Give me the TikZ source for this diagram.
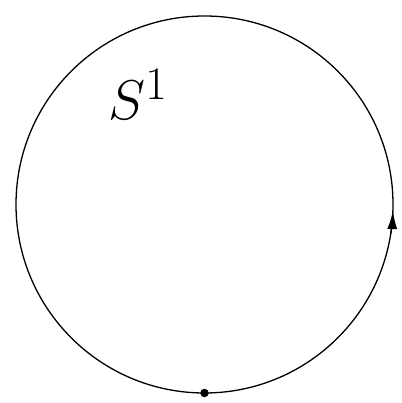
\documentclass[tikz,border=0pt]{standalone}
\usetikzlibrary{arrows.meta}
\tikzset{
  ring/.style={circle, draw, line width=1.3pt, minimum size=377pt, inner sep=0pt, outer sep=0pt},
  basept/.style={circle, fill, minimum size=8.5pt, inner sep=0pt},
  dirarrow/.style={line width=1.3pt, -{Latex[length=18pt,width=10pt]}}
}
\begin{document}
\begin{tikzpicture}[x=1pt,y=1pt]
\useasboundingbox (0,0) rectangle (401,403);
\node[ring] (c) at (204.5,198.5) {};
\node[basept] (p) at (c.south) {};
\draw[dirarrow] (c.-9) arc[start angle=-9, end angle=-2, radius=188.5pt];
\node[anchor=base west, inner sep=0pt, scale=2.25] (lbl) at (108,283) {\Huge $S^1$};
\end{tikzpicture}
\end{document}
